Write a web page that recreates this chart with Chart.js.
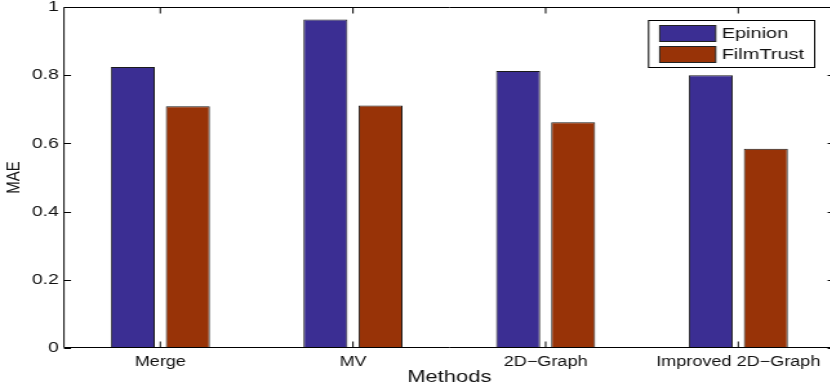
<!DOCTYPE html>
<html>
<head>
<meta charset="utf-8">
<script src="https://cdn.jsdelivr.net/npm/chart.js@4"></script>
<style>
  html, body { margin: 0; padding: 0; background: #fff; overflow: hidden; width: 830px; height: 391px; }
  #wrap { position: absolute; left: 0; top: 0; width: 647px; height: 391px; transform: scaleX(1.29); transform-origin: 0 0; }
  canvas { display: block; }
</style>
</head>
<body>
<div id="wrap"><canvas id="c" width="647" height="391"></canvas></div>
<script>
const categories = ['Merge', 'MV', '2D\u2212Graph', 'Improved 2D\u2212Graph'];
const epinion = [0.824, 0.963, 0.812, 0.800];
const filmTrust = [0.709, 0.711, 0.662, 0.584];
const yTicks = [0, 0.2, 0.4, 0.6, 0.8, 1];
const seriesNames = ['Epinion', 'FilmTrust'];
const seriesColors = ['#3b2e93', '#983307'];

const FONT = "'Liberation Sans', Arial, Helvetica, sans-serif";
const TEXT = '#111';

const framePlugin = {
  id: 'frame',
  afterDraw(chart) {
    const { ctx, chartArea: a, scales: { x, y } } = chart;
    ctx.save();
    ctx.strokeStyle = '#000';
    ctx.lineWidth = 1;
    const top = Math.round(a.top) + 0.5;
    const bottom = Math.round(a.bottom) - 0.5;
    ctx.beginPath();
    ctx.moveTo(a.left, top); ctx.lineTo(a.right, top);
    ctx.moveTo(a.left, bottom); ctx.lineTo(a.right, bottom);
    ctx.moveTo(a.left, top); ctx.lineTo(a.left, bottom);
    ctx.moveTo(a.right - 0.5, top); ctx.lineTo(a.right - 0.5, bottom);
    yTicks.forEach(v => {
      const py = Math.round(y.getPixelForValue(v)) + 0.5;
      ctx.moveTo(a.left, py); ctx.lineTo(a.left + 5.4, py);
      ctx.moveTo(a.right, py); ctx.lineTo(a.right - 5.4, py);
    });
    categories.forEach((c, i) => {
      const px = x.getPixelForValue(i);
      ctx.moveTo(px, bottom); ctx.lineTo(px, bottom - 6);
      ctx.moveTo(px, top); ctx.lineTo(px, top + 6);
    });
    ctx.stroke();

    // legend
    const boxR = a.right - 15.5, boxT = a.top + 13;
    const boxW = 128.7, boxH = 47;
    const boxL = boxR - boxW;
    ctx.fillStyle = '#fff';
    ctx.fillRect(boxL, boxT, boxW, boxH);
    ctx.strokeStyle = '#000';
    ctx.strokeRect(boxL, Math.round(boxT) + 0.5, boxW, boxH);
    ctx.font = '15.5px ' + FONT;
    ctx.textBaseline = 'middle';
    ctx.textAlign = 'left';
    chart.data.datasets.forEach((ds, i) => {
      const sy = boxT + 5 + i * 21;
      ctx.fillStyle = ds.backgroundColor;
      ctx.fillRect(boxL + 8.6, sy, 43.4, 16);
      ctx.strokeStyle = '#222';
      ctx.strokeRect(boxL + 8.6, sy + 0.5, 43.4, 16);
      ctx.fillStyle = TEXT;
      ctx.fillText(ds.label, boxL + 56.6, sy + 8.5);
    });
    ctx.restore();
  }
};

new Chart(document.getElementById('c'), {
  type: 'bar',
  data: {
    labels: categories,
    datasets: [
      { label: seriesNames[0], data: epinion, backgroundColor: seriesColors[0], borderColor: '#1a1a1a', borderWidth: 1 },
      { label: seriesNames[1], data: filmTrust, backgroundColor: seriesColors[1], borderColor: '#1a1a1a', borderWidth: 1 }
    ]
  },
  options: {
    responsive: false,
    animation: false,
    devicePixelRatio: 1,
    layout: { padding: { top: 7, left: 0, right: 0, bottom: 0 } },
    datasets: { bar: { categoryPercentage: 0.5714, barPercentage: 0.8 } },
    plugins: { legend: { display: false }, tooltip: { enabled: false } },
    scales: {
      x: {
        grid: { display: false, drawTicks: false },
        border: { display: false },
        ticks: { color: TEXT, font: { family: FONT, size: 14 }, padding: 6, maxRotation: 0, autoSkip: false },
        title: { display: true, text: 'Methods', color: TEXT, font: { family: FONT, size: 17 }, padding: { top: 0, bottom: 3 } },
        afterFit(s) { s.height = 43; s.paddingLeft = 0; s.paddingRight = 0; }
      },
      y: {
        min: 0, max: 1,
        afterBuildTicks(s) { s.ticks = yTicks.map(v => ({ value: v })); },
        grid: { display: false, drawTicks: false },
        border: { display: false },
        ticks: { color: TEXT, font: { family: FONT, size: 15 }, padding: 4, callback: v => String(v) },
        title: { display: true, text: 'MAE', color: TEXT, font: { family: FONT, size: 15 }, padding: { top: 2, bottom: 0 } },
        afterFit(s) { s.width = 49.6; s.paddingTop = 0; s.paddingBottom = 0; }
      }
    }
  },
  plugins: [framePlugin]
});
</script>
</body>
</html>
